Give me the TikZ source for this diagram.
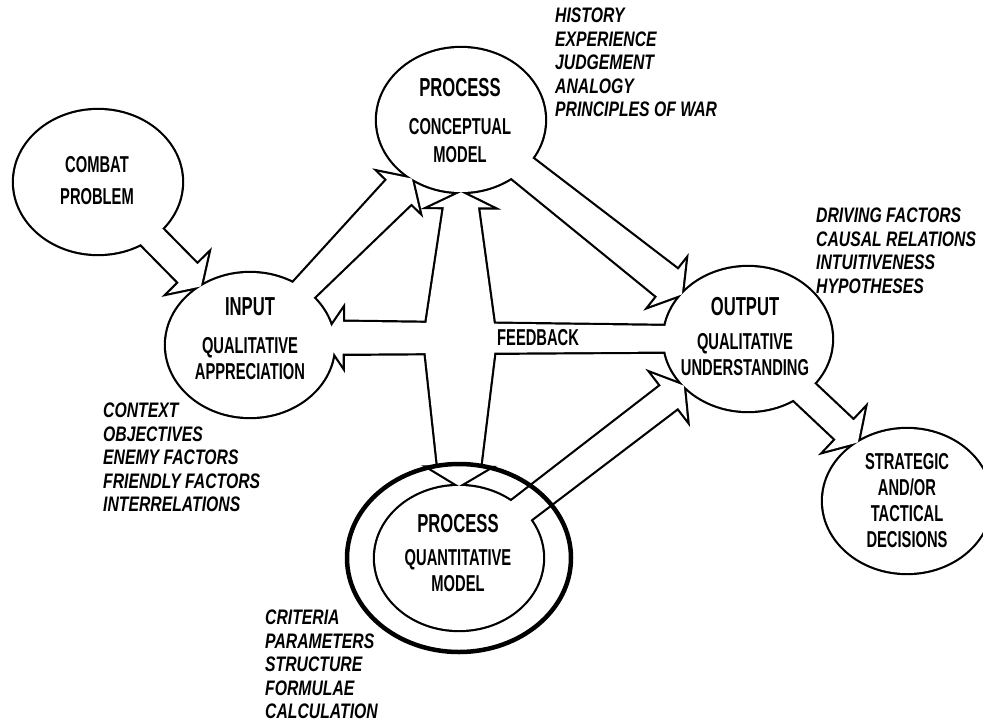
\documentclass[tikz,border=0pt]{standalone}
\usepackage{fontspec}
\usetikzlibrary{shapes.geometric,calc}
\newfontfamily\leroy[FakeStretch=0.64]{Liberation Sans}
\newfontfamily\leroyslant[FakeStretch=0.75]{Liberation Sans}
\newcommand{\headword}[1]{{\fontsize{26}{26}\selectfont #1}}
\newcommand{\blockarrow}[7][]{%
  \path[#1] ($(#2)!#4!90:(#3)$) -- ($(#3)!#7!(#2)!#5!-90:(#2)$)
    -- ($(#3)!#7!(#2)!#6!-90:(#2)$) -- (#3)
    -- ($(#3)!#7!(#2)!#6!90:(#2)$) -- ($(#3)!#7!(#2)!#5!90:(#2)$)
    -- ($(#2)!#4!-90:(#3)$) -- cycle;}
\newcommand{\diagram}[1]{%
  \foreach \n in {combat,input,concept,output,decision,quant}
    \path[#1] (\n) ellipse [x radius=84pt, y radius=72pt];
  \blockarrow[#1]{combat}{input.130}{13pt}{13pt}{28pt}{18pt}
  \blockarrow[#1]{input}{concept.230}{10pt}{17pt}{28pt}{18pt}
  \blockarrow[#1]{concept}{output.146}{13pt}{17pt}{29pt}{18pt}
  \blockarrow[#1]{quant}{output.216}{13pt}{14pt}{29pt}{18pt}
  \blockarrow[#1]{output}{decision.130}{13pt}{13pt}{29pt}{18pt}
  \blockarrow[#1]{hub}{concept.south}{36pt}{17pt}{31pt}{15pt}
  \blockarrow[#1]{hub}{quant.north}{36pt}{21pt}{30pt}{18pt}
  \blockarrow[#1]{output}{fbtip}{12pt}{16pt}{28pt}{19pt}}
\begin{document}
\begin{tikzpicture}[x=1pt,y=-1pt,
  bubble/.style={ellipse,minimum width=168pt,minimum height=144pt,inner sep=0pt},
  rim/.style={draw,line width=4.4pt},
  blank/.style={fill=white},
  caption/.style={font=\leroy\bfseries\fontsize{23}{26}\selectfont,align=center,inner sep=0pt},
  facts/.style={font=\leroyslant\bfseries\itshape\fontsize{21}{23.5}\selectfont,align=left,anchor=north west,inner sep=0pt}]
\useasboundingbox (0,0) rectangle (983,724);
\node[bubble] (combat) at (98,182) {};
\node[bubble] (input) at (250,345) {};
\node[bubble] (concept) at (461,120) {};
\node[bubble] (output) at (748,339) {};
\node[bubble] (decision) at (907,501) {};
\node[bubble] (quant) at (459,558) {};
\coordinate (hub) at ($(concept.south)!0.5!(quant.north)$);
\coordinate (fbtip) at ($(input.5)+(-10,0)$);
\diagram{rim}
\diagram{blank}
\draw[line width=4.5pt] (quant) ellipse [x radius=112pt, y radius=94pt];
\node[caption] (combatlabel) at (97,181) {COMBAT\\[6pt]PROBLEM};
\node[caption] (inputlabel) at (250,339) {\headword{INPUT}\\[12pt]QUALITATIVE\\APPRECIATION};
\node[caption] (conceptlabel) at (460,121) {\headword{PROCESS}\\[12pt]CONCEPTUAL\\[2pt]MODEL};
\node[caption] (outputlabel) at (745,337) {\headword{OUTPUT}\\[8pt]QUALITATIVE\\UNDERSTANDING};
\node[caption] (decisionlabel) at (907,501) {STRATEGIC\\AND/OR\\TACTICAL\\DECISIONS};
\node[caption] (quantlabel) at (458,553) {\headword{PROCESS}\\[7pt]QUANTITATIVE\\MODEL};
\node[caption,anchor=west] (feedback) at (497,338) {FEEDBACK};
\node[facts] (conceptfacts) at (555,8) {HISTORY\\EXPERIENCE\\JUDGEMENT\\ANALOGY\\PRINCIPLES OF WAR};
\node[facts] (outputfacts) at (816,208) {DRIVING FACTORS\\CAUSAL RELATIONS\\INTUITIVENESS\\HYPOTHESES};
\node[facts] (inputfacts) at (103,403) {CONTEXT\\OBJECTIVES\\ENEMY FACTORS\\FRIENDLY FACTORS\\INTERRELATIONS};
\node[facts] (quantfacts) at (265,610) {CRITERIA\\PARAMETERS\\STRUCTURE\\FORMULAE\\CALCULATION};
\end{tikzpicture}
\end{document}
